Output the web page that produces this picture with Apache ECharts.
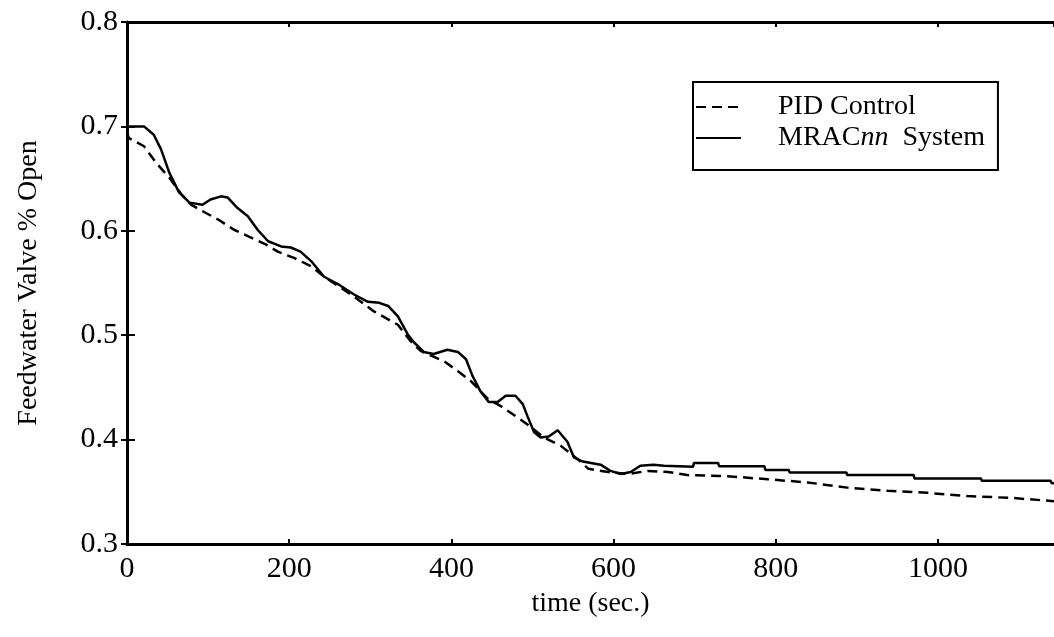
<!DOCTYPE html>
<html>
<head>
<meta charset="utf-8">
<script src="https://cdn.jsdelivr.net/npm/echarts@6/dist/echarts.min.js"></script>
<style>
  html, body { margin: 0; padding: 0; background: #fff; }
  #chart { width: 1054px; height: 637px; }
</style>
</head>
<body>
<div id="chart"></div>
<script>
// time axis (sec.) and valve opening
var xTicks = [0, 200, 400, 600, 800, 1000];
var yTicks = [0.3, 0.4, 0.5, 0.6, 0.7, 0.8];

var pidTime = [0, 2, 21, 36, 52, 67, 79, 95, 112, 132, 149, 171, 186, 206, 227, 243, 280, 304, 334, 350, 362, 391, 409, 424, 445, 461, 482, 498, 514, 535, 556, 569, 593, 617, 642, 667, 691, 740, 790, 839, 888, 938, 987, 1036, 1093, 1143];
var pidValue = [0.695, 0.689, 0.681, 0.665, 0.651, 0.635, 0.625, 0.618, 0.611, 0.601, 0.595, 0.587, 0.580, 0.574, 0.566, 0.556, 0.537, 0.523, 0.510, 0.494, 0.485, 0.475, 0.465, 0.456, 0.439, 0.432, 0.421, 0.412, 0.402, 0.394, 0.381, 0.372, 0.369, 0.367, 0.370, 0.369, 0.366, 0.365, 0.362, 0.359, 0.354, 0.351, 0.349, 0.346, 0.344, 0.341];

var mracTime = [0, 21, 33, 42, 52, 64, 77, 93, 103, 116, 124, 136, 149, 161, 174, 190, 202, 214, 227, 243, 260, 280, 297, 311, 322, 334, 346, 354, 366, 378, 395, 408, 418, 426, 436, 446, 457, 467, 479, 488, 494, 502, 510, 520, 531, 543, 551, 562, 584, 596, 609, 621, 633, 649, 662, 698, 699, 729, 730, 786, 787, 816, 817, 887, 888, 970, 971, 1053, 1054, 1139, 1140, 1143];
var mracValue = [0.700, 0.700, 0.692, 0.678, 0.656, 0.637, 0.627, 0.625, 0.630, 0.633, 0.632, 0.622, 0.614, 0.601, 0.590, 0.585, 0.584, 0.580, 0.571, 0.556, 0.549, 0.539, 0.532, 0.531, 0.528, 0.518, 0.501, 0.493, 0.484, 0.482, 0.486, 0.484, 0.477, 0.461, 0.446, 0.436, 0.436, 0.442, 0.442, 0.434, 0.422, 0.407, 0.402, 0.403, 0.409, 0.398, 0.383, 0.379, 0.376, 0.370, 0.367, 0.369, 0.375, 0.376, 0.375, 0.374, 0.3775, 0.3775, 0.3745, 0.3745, 0.371, 0.371, 0.3685, 0.3685, 0.366, 0.366, 0.3628, 0.3628, 0.3605, 0.3605, 0.3583, 0.3583];

function pairs(xs, ys) {
  var out = [];
  for (var i = 0; i < xs.length; i++) out.push([xs[i], ys[i]]);
  return out;
}

var font = "'Liberation Serif', 'Times New Roman', serif";
var chart = echarts.init(document.getElementById("chart"));

var option = {
  backgroundColor: "#fff",
  animation: false,
  textStyle: { fontFamily: font, color: "#000" },
  grid: { left: 127, top: 22, right: 0, bottom: 93, containLabel: false },
  legend: {
    orient: "vertical",
    left: 693,
    top: 82,
    itemWidth: 45,
    itemHeight: 16,
    itemGap: 3,
    padding: [11, 13, 18, 2],
    borderColor: "#000",
    borderWidth: 2,
    backgroundColor: "#fff",
    data: ["PID Control", "MRACnn System"],
    itemStyle: { opacity: 0 },
    lineStyle: { width: 2, color: "#000" },
    formatter: function(name) {
      if (name === "MRACnn System") return "MRAC{i|nn}  System";
      return name;
    },
    textStyle: {
      fontFamily: font,
      fontSize: 28,
      color: "#000",
      padding: [0, 0, 0, 32],
      rich: {
        i: { fontFamily: font, fontSize: 28, fontStyle: "italic", color: "#000" }
      }
    }
  },
  xAxis: [
    {
      type: "value",
      min: 0,
      max: 1143,
      interval: 200,
      name: "time (sec.)",
      nameLocation: "middle",
      nameGap: 46,
      nameTextStyle: { fontFamily: font, fontSize: 28, color: "#000" },
      axisLine: { show: true, lineStyle: { color: "#000", width: 3 } },
      axisTick: { show: true, inside: true, length: 5, lineStyle: { color: "#000", width: 2 } },
      axisLabel: {
        fontFamily: font, fontSize: 30, color: "#000", margin: 10,
        showMaxLabel: false,
        formatter: function(v) { return String(v); }
      },
      splitLine: { show: false }
    },
    {
      type: "value",
      position: "top",
      min: 0,
      max: 1143,
      interval: 200,
      axisLine: { show: true, lineStyle: { color: "#000", width: 3 } },
      axisTick: { show: true, inside: true, length: 5, lineStyle: { color: "#000", width: 2 } },
      axisLabel: { show: false },
      splitLine: { show: false }
    }
  ],
  yAxis: [
    {
      type: "value",
      min: yTicks[0],
      max: yTicks[yTicks.length - 1],
      interval: 0.1,
      name: "Feedwater Valve % Open",
      nameLocation: "middle",
      nameGap: 84,
      nameTextStyle: { fontFamily: font, fontSize: 28, color: "#000" },
      axisLine: { show: true, lineStyle: { color: "#000", width: 3 } },
      axisTick: { show: true, inside: true, length: 8, lineStyle: { color: "#000", width: 2 } },
      axisLabel: {
        fontFamily: font, fontSize: 30, color: "#000", margin: 9,
        formatter: function(v) { return v.toFixed(1); }
      },
      splitLine: { show: false }
    },
    {
      type: "value",
      position: "right",
      min: yTicks[0],
      max: yTicks[yTicks.length - 1],
      interval: 0.1,
      axisLine: { show: false },
      axisTick: { show: true, inside: true, length: 6, lineStyle: { color: "#000", width: 2 } },
      axisLabel: { show: false },
      splitLine: { show: false }
    }
  ],
  series: [
    {
      name: "PID Control",
      type: "line",
      data: pairs(pidTime, pidValue),
      symbol: "none",
      smooth: false,
      lineStyle: { color: "#000", width: 2.5, type: [10, 6] },
      itemStyle: { color: "#000" }
    },
    {
      name: "MRACnn System",
      type: "line",
      data: pairs(mracTime, mracValue),
      symbol: "none",
      smooth: false,
      lineStyle: { color: "#000", width: 2.5, type: "solid" },
      itemStyle: { color: "#000" }
    }
  ]
};

chart.setOption(option);
window.addEventListener("resize", function() {
  chart.resize();
});
</script>
</body>
</html>
